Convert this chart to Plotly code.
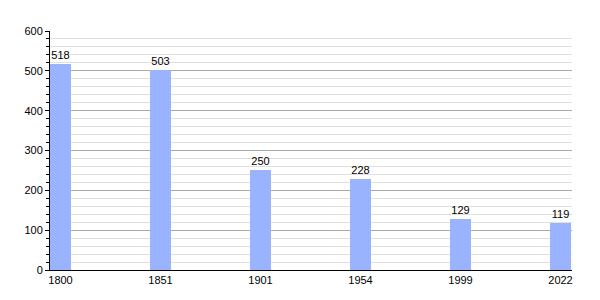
import plotly.graph_objects as go

years = ["1800", "1851", "1901", "1954", "1999", "2022"]
population = [518, 503, 250, 228, 129, 119]

positions = [i + 0.105 for i in range(len(years))]

fig = go.Figure(go.Bar(
    x=positions,
    y=population,
    width=0.21,
    marker=dict(color="#99b3ff", line=dict(width=0)),
    text=[str(v) for v in population],
    textposition="outside",
    textfont=dict(family="Liberation Sans, Arial, sans-serif", size=11, color="#000"),
    cliponaxis=False,
))

fig.update_layout(
    width=600, height=300,
    margin=dict(l=50, r=28, t=31, b=30),
    paper_bgcolor="white", plot_bgcolor="white",
    font=dict(family="Liberation Sans, Arial, sans-serif", size=11, color="#000"),
    showlegend=False,
    bargap=0,
)
fig.update_xaxes(
    range=[0, 5.22],
    tickvals=positions, ticktext=years,
    showgrid=False, zeroline=False,
    showline=True, linecolor="#000", linewidth=1,
    ticks="", ticklen=0,
)
fig.update_yaxes(
    range=[0, 600], dtick=100,
    showgrid=True, gridcolor="#aaaaaa", gridwidth=1,
    zeroline=False,
    showline=True, linecolor="#000", linewidth=1,
    ticks="outside", ticklen=4, tickcolor="#000",
    minor=dict(dtick=20, showgrid=True, gridcolor="#e0e0e0", ticks="outside", ticklen=3, tickcolor="#000"),
)

fig.write_html("out.html")
